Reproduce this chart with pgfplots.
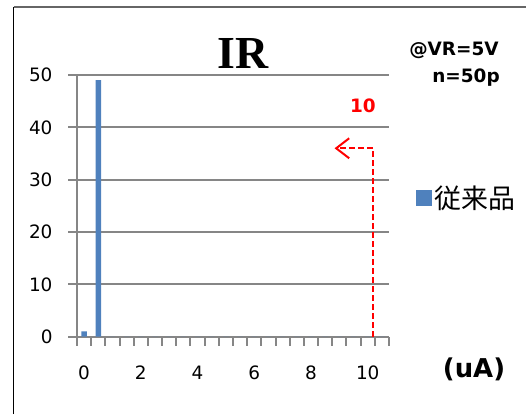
\documentclass[border=0pt]{standalone}
\usepackage{pgfplots}
\pgfplotsset{compat=1.18}
\usepackage{fontspec}
\setmainfont{DejaVu Sans}
\newfontfamily\jpfont{Noto Sans CJK JP}
\newfontfamily\titlefont{Liberation Serif}
\usetikzlibrary{arrows.meta}
\definecolor{barblue}{RGB}{79,129,189}
\definecolor{gridgray}{RGB}{134,134,134}
\begin{document}
\begin{tikzpicture}[x=1bp,y=1bp]
\useasboundingbox (0,0) rectangle (526,414);
\draw[line width=1.6bp, black] (13.5,0) -- (13.5,407);
\draw[line width=1.6bp, black!60] (13.5,407) -- (526,407);
\begin{axis}[
  at={(77bp,77.3bp)}, anchor=south west,
  scale only axis, width=312bp, height=261.7bp,
  xmin=-0.25, xmax=10.75, ymin=0, ymax=50,
  axis x line*=bottom, axis y line*=left,
  axis line style={gridgray, line width=2bp, -},
  ytick={0,10,...,50},
  xtick={-0.25,0.25,...,10.75}, xticklabels={},
  extra x ticks={0,2,4,6,8,10},
  extra x tick labels={0,2,4,6,8,10},
  extra x tick style={major tick length=0pt},
  tick align=outside, major tick length=9bp,
  tick style={gridgray, line width=2bp},
  ymajorgrids, grid style={gridgray, line width=2bp},
  ticklabel style={font=\fontsize{18.5}{18.5}\selectfont},
  /pgf/number format/assume math mode=true,
  xticklabel style={yshift=-26bp},
  yticklabel style={xshift=-12bp},
  legend style={at={(1.087,0.53)}, anchor=west, draw=none, fill=none,
    inner sep=0pt, font=\jpfont\fontsize{27}{27}\selectfont},
  legend image code/.code={\fill[barblue] (0bp,-8bp) rectangle (16bp,8bp);},
  clip=false,
]
\addplot[ybar, bar width=5.5bp, fill=barblue, draw=none] coordinates {
 (0,1) (0.5,49) (1,0) (1.5,0) (2,0) (2.5,0) (3,0) (3.5,0) (4,0) (4.5,0)
 (5,0) (5.5,0) (6,0) (6.5,0) (7,0) (7.5,0) (8,0) (8.5,0) (9,0) (9.5,0)
 (10,0) (10.5,0)};
\addlegendentry{従来品}
\addplot[red, line width=2bp, dash pattern=on 6bp off 3bp,
  -{Straight Barb[length=13bp,width=20bp,line width=2bp]}, forget plot]
  coordinates {(10.19,0) (10.19,36) (8.83,36)};
\node[anchor=base, text=red, font=\bfseries\fontsize{18.5}{18.5}\selectfont]
  at (axis cs:9.83,42.8) {10};
\end{axis}
\node[anchor=base, font=\titlefont\bfseries\fontsize{46}{46}\selectfont] at (243,346) {IR};
\node[anchor=base, font=\bfseries\fontsize{18.5}{18.5}\selectfont] at (454,359) {@VR=5V};
\node[anchor=base, font=\bfseries\fontsize{18.5}{18.5}\selectfont] at (466,332) {n=50p};
\node[anchor=base, font=\bfseries\fontsize{26}{26}\selectfont] at (474,37) {(uA)};
\end{tikzpicture}
\end{document}
